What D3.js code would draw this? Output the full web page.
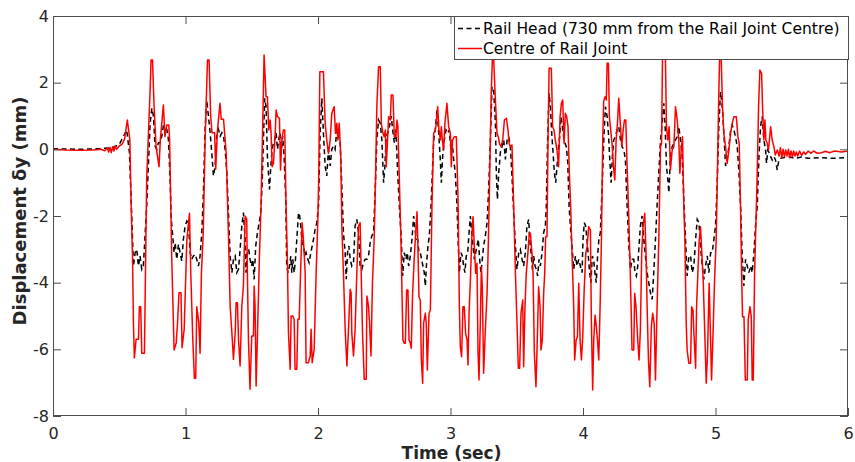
<!DOCTYPE html>
<html><head><meta charset="utf-8">
<script src="https://cdn.jsdelivr.net/npm/d3@7"></script>
<style>body{margin:0;background:#fff}svg{display:block;font-family:"DejaVu Sans",Verdana,sans-serif}</style>
</head><body><svg id="c" width="855" height="462"></svg>
<script>
// ---- data: [time (s), displacement (mm)] ----
const xTicks = [0,1,2,3,4,5,6];
const yTicks = [-8,-6,-4,-2,0,2,4];
const seriesNames = ["Rail Head (730 mm from the Rail Joint Centre)", "Centre of Rail Joint"];
const railHead = [[0,0.02],[0.2,0.0],[0.35,0.02],[0.45,0.05],[0.5,0.15],[0.531,0.38],[0.556,0.58],[0.577,-0.1],[0.587,-1.2],[0.597,-2.3],[0.607,-3.5],[0.62,-3.1],[0.632,-3.0],[0.645,-3.5],[0.657,-3.2],[0.67,-3.6],[0.682,-3.5],[0.707,-1.72],[0.733,0.78],[0.746,1.23],[0.758,1.0],[0.77,0.1],[0.783,0.0],[0.796,0.2],[0.808,0.2],[0.821,0.4],[0.833,0.7],[0.846,0.7],[0.859,0.6],[0.871,0.3],[0.884,-0.9],[0.891,-2.0],[0.914,-3.1],[0.922,-2.8],[0.934,-3.3],[0.947,-2.85],[0.959,-3.1],[0.972,-3.35],[0.984,-2.7],[0.997,-2.3],[1.01,-2.15],[1.022,-2.2],[1.035,-3.1],[1.047,-3.3],[1.06,-3.2],[1.073,-3.15],[1.085,-3.3],[1.098,-3.5],[1.11,-3.2],[1.123,-2.5],[1.135,-1.3],[1.148,0.6],[1.16,1.48],[1.173,1.0],[1.186,0.5],[1.198,-0.1],[1.211,-0.8],[1.224,-0.5],[1.236,0.4],[1.249,0.6],[1.262,0.4],[1.274,0.5],[1.287,0.4],[1.299,0.0],[1.312,-0.7],[1.324,-1.9],[1.337,-3.2],[1.35,-3.7],[1.362,-3.3],[1.375,-3.2],[1.387,-3.7],[1.4,-3.6],[1.412,-3.0],[1.425,-2.3],[1.437,-1.9],[1.45,-2.7],[1.457,-3.7],[1.467,-3.1],[1.477,-3.0],[1.487,-3.3],[1.498,-3.5],[1.508,-3.3],[1.518,-3.9],[1.53,-2.9],[1.543,-2.5],[1.556,-2.2],[1.568,-1.9],[1.578,-1.1],[1.588,0.28],[1.598,1.53],[1.608,1.28],[1.618,-0.2],[1.626,-0.7],[1.634,-1.2],[1.644,-0.5],[1.654,0.0],[1.664,0.2],[1.674,0.3],[1.684,0.5],[1.694,0.0],[1.704,0.3],[1.714,0.5],[1.724,0.0],[1.734,0.4],[1.744,-0.2],[1.757,-1.5],[1.764,-3.5],[1.774,-3.7],[1.785,-3.5],[1.795,-3.2],[1.802,-3.7],[1.81,-3.3],[1.82,-3.7],[1.83,-3.3],[1.84,-2.7],[1.853,-1.9],[1.86,-1.95],[1.87,-2.3],[1.88,-2.8],[1.89,-2.9],[1.903,-3.2],[1.91,-3.1],[1.923,-3.3],[1.933,-3.4],[1.946,-3.1],[1.956,-2.9],[1.966,-2.7],[1.978,-2.4],[1.991,-2.2],[2.004,-1.7],[2.016,0.48],[2.029,1.53],[2.041,0.48],[2.054,-0.5],[2.066,-0.8],[2.079,0.0],[2.092,-0.5],[2.104,0.0],[2.117,0.1],[2.129,0.0],[2.142,0.6],[2.154,0.4],[2.167,0.2],[2.18,-1.1],[2.192,-2.5],[2.205,-3.1],[2.213,-3.9],[2.223,-3.1],[2.233,-2.9],[2.243,-3.3],[2.255,-3.5],[2.268,-3.4],[2.28,-2.3],[2.293,-2.1],[2.306,-2.5],[2.318,-3.5],[2.331,-3.6],[2.343,-3.4],[2.356,-3.3],[2.369,-3.3],[2.381,-3.2],[2.394,-2.8],[2.406,-2.6],[2.419,-2.5],[2.432,-1.2],[2.444,0.28],[2.457,0.88],[2.47,0.78],[2.482,0.28],[2.495,-1.0],[2.505,-0.5],[2.515,0.4],[2.528,0.5],[2.54,0.7],[2.553,1.0],[2.563,0.6],[2.576,0.2],[2.588,0.6],[2.601,-0.7],[2.614,-1.7],[2.629,-2.7],[2.639,-3.8],[2.651,-3.1],[2.664,-3.3],[2.674,-3.1],[2.684,-3.5],[2.697,-3.2],[2.709,-2.7],[2.722,-2.0],[2.732,-2.4],[2.742,-2.7],[2.752,-2.7],[2.762,-3.1],[2.772,-3.1],[2.782,-3.3],[2.792,-3.5],[2.802,-3.7],[2.81,-4.1],[2.818,-3.5],[2.83,-2.9],[2.84,-2.6],[2.853,-1.7],[2.863,-0.7],[2.873,0.28],[2.885,0.58],[2.898,1.18],[2.911,0.48],[2.923,-0.3],[2.931,-1.0],[2.941,-0.2],[2.953,0.28],[2.966,0.58],[2.979,0.48],[2.991,0.58],[3.001,0.08],[3.011,0.28],[3.024,-0.3],[3.036,-0.7],[3.049,-1.7],[3.059,-2.9],[3.067,-3.7],[3.079,-3.1],[3.089,-3.2],[3.099,-3.5],[3.109,-3.7],[3.119,-3.2],[3.13,-3.1],[3.14,-2.5],[3.15,-2.0],[3.16,-2.5],[3.17,-2.9],[3.18,-3.3],[3.19,-3.1],[3.2,-2.9],[3.21,-2.7],[3.22,-3.3],[3.23,-3.7],[3.24,-3.3],[3.25,-2.9],[3.263,-2.6],[3.276,-2.2],[3.288,-1.2],[3.301,0.28],[3.313,1.88],[3.326,1.78],[3.339,0.78],[3.346,-0.7],[3.354,-1.5],[3.364,-0.7],[3.376,-0.1],[3.389,0.08],[3.402,0.28],[3.414,-0.3],[3.427,0.28],[3.439,0.38],[3.452,0.08],[3.465,-0.9],[3.477,-1.9],[3.49,-2.9],[3.502,-3.6],[3.515,-3.1],[3.527,-3.0],[3.54,-3.3],[3.552,-3.5],[3.565,-3.1],[3.577,-2.3],[3.59,-2.1],[3.598,-2.7],[3.608,-3.1],[3.618,-3.6],[3.628,-3.2],[3.638,-3.5],[3.648,-3.6],[3.658,-3.8],[3.668,-3.3],[3.678,-3.5],[3.691,-3.1],[3.703,-2.5],[3.716,-2.3],[3.723,-1.7],[3.733,0.28],[3.744,1.68],[3.754,1.28],[3.764,0.48],[3.774,-0.1],[3.784,-0.7],[3.794,-1.0],[3.804,-0.5],[3.814,0.0],[3.824,0.38],[3.834,0.98],[3.844,0.68],[3.854,0.38],[3.864,0.18],[3.874,0.08],[3.885,-0.4],[3.895,-1.7],[3.905,-2.3],[3.917,-2.9],[3.93,-3.6],[3.943,-3.2],[3.955,-3.5],[3.968,-3.3],[3.98,-3.5],[3.993,-3.7],[4.0,-2.7],[4.01,-2.2],[4.02,-2.3],[4.03,-2.7],[4.04,-3.2],[4.05,-3.7],[4.06,-4.0],[4.07,-3.2],[4.08,-3.3],[4.09,-3.7],[4.1,-4.0],[4.11,-3.2],[4.12,-2.7],[4.131,-2.5],[4.144,-1.2],[4.157,0.28],[4.169,1.28],[4.182,0.98],[4.192,0.48],[4.202,-0.3],[4.212,-1.0],[4.222,-0.2],[4.232,0.28],[4.245,0.38],[4.257,0.58],[4.27,0.68],[4.283,0.28],[4.295,0.08],[4.308,-0.02],[4.32,-0.3],[4.333,-1.7],[4.346,-2.9],[4.358,-3.6],[4.371,-3.3],[4.383,-3.3],[4.393,-3.7],[4.403,-3.8],[4.413,-3.5],[4.423,-2.9],[4.433,-2.3],[4.446,-2.0],[4.459,-2.7],[4.471,-3.2],[4.484,-3.7],[4.496,-4.0],[4.509,-4.3],[4.522,-4.5],[4.534,-3.7],[4.547,-2.7],[4.559,-1.7],[4.572,-0.7],[4.585,0.28],[4.598,0.78],[4.61,1.38],[4.62,0.68],[4.63,-0.5],[4.64,-0.9],[4.648,-1.3],[4.66,-0.2],[4.673,0.08],[4.686,0.18],[4.698,0.28],[4.711,0.38],[4.723,0.68],[4.736,0.28],[4.749,-0.2],[4.761,-1.5],[4.774,-2.7],[4.786,-3.8],[4.799,-3.2],[4.812,-3.2],[4.824,-3.7],[4.837,-3.5],[4.85,-2.7],[4.862,-2.1],[4.875,-2.2],[4.887,-2.9],[4.9,-3.5],[4.912,-3.9],[4.925,-3.5],[4.938,-3.2],[4.95,-3.7],[4.963,-3.1],[4.975,-3.1],[4.988,-2.7],[5.0,-2.3],[5.013,-1.0],[5.026,0.78],[5.038,1.73],[5.051,1.28],[5.063,0.48],[5.076,-0.5],[5.088,-0.3],[5.101,0.08],[5.114,0.58],[5.126,0.73],[5.139,0.58],[5.151,0.38],[5.164,0.08],[5.177,-0.7],[5.189,-1.7],[5.202,-3.2],[5.214,-4.1],[5.227,-3.3],[5.24,-3.5],[5.252,-3.7],[5.265,-3.5],[5.277,-3.7],[5.29,-3.1],[5.302,-2.3],[5.315,-1.7],[5.328,-0.2],[5.34,0.68],[5.352,0.98],[5.365,0.28],[5.378,-0.02],[5.385,-0.42],[5.395,-0.02],[5.406,-0.12],[5.416,-0.22],[5.428,-0.32],[5.441,-0.22],[5.453,-0.32],[5.466,-0.62],[5.478,-0.32],[5.49,-0.27],[5.55,-0.22],[5.6,-0.27],[5.65,-0.23],[5.7,-0.27],[5.8,-0.25],[5.9,-0.27],[6.0,-0.25]];
const railJoint = [[0,0.0],[0.1,-0.02],[0.2,-0.03],[0.3,-0.02],[0.36,0.0],[0.39,-0.04],[0.41,0.04],[0.42,-0.08],[0.43,0.06],[0.44,-0.1],[0.45,0.08],[0.46,-0.05],[0.47,0.1],[0.48,0.0],[0.5,0.1],[0.52,0.15],[0.54,0.3],[0.561,0.88],[0.58,0.28],[0.59,-1.7],[0.6,-3.2],[0.607,-5.2],[0.614,-6.26],[0.627,-5.7],[0.645,-5.7],[0.652,-4.72],[0.662,-4.72],[0.67,-6.12],[0.69,-6.12],[0.707,-0.9],[0.733,1.78],[0.74,2.68],[0.751,2.68],[0.763,1.28],[0.778,0.08],[0.8,-0.52],[0.81,0.28],[0.833,1.33],[0.845,0.38],[0.859,0.73],[0.874,0.73],[0.88,0.28],[0.896,-3.22],[0.914,-6.02],[0.93,-5.8],[0.94,-5.2],[0.951,-4.3],[0.966,-4.3],[0.974,-5.95],[0.99,-5.4],[1.01,-2.72],[1.03,-1.92],[1.04,-3.72],[1.055,-5.7],[1.067,-6.87],[1.077,-6.87],[1.085,-4.72],[1.1,-5.2],[1.11,-6.12],[1.12,-3.72],[1.134,-2.5],[1.148,0.28],[1.166,2.68],[1.178,2.68],[1.19,1.0],[1.2,0.5],[1.22,0.5],[1.228,-0.6],[1.24,0.5],[1.26,1.38],[1.27,0.9],[1.287,0.9],[1.307,-0.1],[1.325,-2.7],[1.337,-4.7],[1.35,-5.5],[1.362,-6.3],[1.375,-5.5],[1.382,-4.6],[1.392,-4.6],[1.4,-5.7],[1.412,-6.5],[1.425,-4.7],[1.437,-4.1],[1.45,-2.0],[1.462,-2.1],[1.467,-3.7],[1.475,-5.7],[1.487,-7.2],[1.5,-5.6],[1.513,-5.6],[1.518,-4.1],[1.525,-4.7],[1.533,-7.1],[1.543,-5.6],[1.558,-3.2],[1.57,-1.7],[1.583,0.78],[1.593,2.83],[1.608,1.58],[1.618,1.58],[1.629,0.58],[1.639,0.88],[1.646,0.48],[1.654,-0.52],[1.664,-0.42],[1.676,0.38],[1.684,1.18],[1.694,0.98],[1.709,0.93],[1.717,-0.62],[1.727,0.28],[1.739,0.58],[1.749,0.58],[1.759,-1.72],[1.77,-3.5],[1.777,-5.5],[1.79,-6.6],[1.797,-5.0],[1.81,-5.0],[1.82,-5.1],[1.827,-6.6],[1.84,-6.6],[1.848,-5.1],[1.858,-5.1],[1.87,-3.5],[1.88,-2.2],[1.89,-2.7],[1.903,-3.7],[1.91,-6.4],[1.928,-6.4],[1.941,-6.2],[1.948,-5.4],[1.956,-6.4],[1.971,-6.0],[1.986,-3.7],[1.999,-2.1],[2.006,-0.7],[2.014,2.33],[2.041,2.33],[2.054,0.78],[2.066,0.28],[2.079,-0.12],[2.092,0.28],[2.104,1.08],[2.122,1.28],[2.132,0.48],[2.142,0.78],[2.15,0.28],[2.16,0.78],[2.172,-0.22],[2.18,-2.3],[2.192,-3.7],[2.205,-5.4],[2.218,-6.5],[2.23,-5.4],[2.243,-4.2],[2.25,-4.3],[2.255,-5.5],[2.268,-6.2],[2.28,-5.4],[2.293,-3.7],[2.306,-2.3],[2.318,-2.2],[2.326,-3.7],[2.336,-5.5],[2.349,-6.9],[2.364,-6.9],[2.369,-4.4],[2.381,-4.7],[2.389,-5.2],[2.4,-6.2],[2.411,-4.0],[2.424,-2.7],[2.434,-0.9],[2.444,1.28],[2.457,2.48],[2.47,2.48],[2.478,0.78],[2.49,0.48],[2.5,0.38],[2.508,0.58],[2.515,-0.52],[2.525,0.28],[2.533,0.98],[2.546,0.88],[2.553,1.63],[2.566,1.63],[2.576,0.38],[2.588,0.38],[2.596,0.88],[2.603,0.68],[2.614,-0.92],[2.626,-2.72],[2.636,-4.72],[2.641,-5.72],[2.651,-5.82],[2.659,-5.82],[2.669,-4.22],[2.679,-4.22],[2.687,-5.72],[2.697,-5.82],[2.704,-5.97],[2.714,-4.32],[2.727,-3.22],[2.737,-2.52],[2.747,-1.87],[2.754,-2.92],[2.762,-4.42],[2.772,-4.52],[2.78,-6.32],[2.79,-7.02],[2.797,-5.22],[2.81,-4.92],[2.817,-5.22],[2.825,-6.62],[2.838,-4.92],[2.848,-4.82],[2.86,-1.72],[2.873,0.48],[2.885,0.58],[2.893,0.78],[2.903,1.28],[2.913,0.58],[2.923,0.28],[2.931,0.68],[2.938,0.28],[2.948,-0.02],[2.958,0.78],[2.973,1.38],[2.986,0.68],[2.999,0.48],[3.006,-0.52],[3.016,0.28],[3.029,0.38],[3.044,0.38],[3.057,-1.52],[3.067,-4.72],[3.074,-5.92],[3.084,-6.22],[3.094,-4.72],[3.104,-4.72],[3.114,-5.52],[3.125,-5.72],[3.132,-6.47],[3.14,-4.92],[3.15,-3.92],[3.162,-2.52],[3.17,-2.02],[3.18,-2.92],[3.19,-3.72],[3.2,-3.42],[3.208,-6.12],[3.215,-6.92],[3.225,-5.22],[3.233,-3.52],[3.24,-4.12],[3.25,-6.72],[3.263,-5.42],[3.276,-4.32],[3.286,-2.72],[3.296,-0.72],[3.308,1.78],[3.316,2.68],[3.326,2.68],[3.339,1.48],[3.351,0.48],[3.361,0.38],[3.369,0.18],[3.381,0.08],[3.394,0.28],[3.407,0.88],[3.422,0.93],[3.434,0.58],[3.442,0.18],[3.452,0.08],[3.464,0.13],[3.477,-1.72],[3.49,-3.72],[3.502,-5.22],[3.512,-6.57],[3.522,-6.57],[3.532,-4.92],[3.545,-4.52],[3.552,-6.52],[3.562,-4.72],[3.572,-3.72],[3.582,-3.22],[3.595,-2.52],[3.603,-2.52],[3.615,-3.12],[3.623,-3.72],[3.633,-6.12],[3.645,-7.12],[3.655,-5.72],[3.665,-4.12],[3.676,-4.72],[3.683,-6.02],[3.693,-5.72],[3.703,-4.32],[3.711,-3.72],[3.718,-2.62],[3.728,-2.62],[3.736,0.28],[3.744,2.43],[3.761,2.43],[3.771,0.68],[3.781,0.58],[3.791,0.28],[3.804,-0.02],[3.816,-0.52],[3.827,0.98],[3.837,1.38],[3.847,1.48],[3.857,0.18],[3.867,1.08],[3.877,0.98],[3.887,0.68],[3.897,-0.72],[3.907,-1.72],[3.917,-3.12],[3.93,-4.72],[3.937,-6.32],[3.948,-5.72],[3.958,-5.62],[3.968,-4.02],[3.978,-5.72],[3.988,-6.32],[3.998,-5.62],[4.008,-4.32],[4.021,-3.12],[4.031,-2.92],[4.043,-2.32],[4.056,-2.42],[4.063,-5.12],[4.073,-7.22],[4.081,-5.72],[4.091,-4.97],[4.101,-5.32],[4.109,-5.72],[4.119,-6.32],[4.129,-4.72],[4.139,-2.72],[4.149,0.28],[4.156,1.43],[4.166,1.58],[4.176,1.48],[4.182,2.58],[4.192,2.58],[4.199,0.98],[4.209,0.58],[4.219,0.18],[4.23,-0.52],[4.24,-0.92],[4.25,0.28],[4.26,0.78],[4.27,1.53],[4.283,0.68],[4.293,0.08],[4.303,0.58],[4.313,0.88],[4.323,0.88],[4.333,-0.52],[4.343,-1.72],[4.353,-3.12],[4.363,-4.72],[4.37,-6.02],[4.383,-6.02],[4.39,-4.32],[4.4,-4.72],[4.413,-5.72],[4.423,-6.32],[4.433,-5.42],[4.443,-3.12],[4.453,-2.32],[4.466,-1.92],[4.476,-3.12],[4.484,-4.72],[4.494,-6.32],[4.504,-7.12],[4.516,-5.32],[4.526,-4.92],[4.537,-5.22],[4.547,-6.92],[4.559,-4.72],[4.572,-2.72],[4.585,0.08],[4.593,0.18],[4.6,2.75],[4.622,2.75],[4.63,0.68],[4.64,0.28],[4.65,0.68],[4.66,-0.62],[4.673,-0.02],[4.686,0.08],[4.698,1.28],[4.711,0.88],[4.723,0.28],[4.731,-0.72],[4.741,-0.02],[4.751,0.38],[4.761,-1.72],[4.769,-2.72],[4.779,-5.22],[4.786,-6.02],[4.799,-6.42],[4.812,-6.42],[4.82,-4.72],[4.83,-4.82],[4.837,-5.52],[4.85,-6.57],[4.857,-4.72],[4.867,-3.72],[4.877,-2.72],[4.887,-2.32],[4.897,-3.12],[4.907,-3.92],[4.917,-5.22],[4.93,-7.02],[4.94,-6.12],[4.952,-4.02],[4.963,-5.72],[4.97,-6.92],[4.98,-5.72],[4.993,-3.92],[5.005,-2.72],[5.013,-1.02],[5.023,1.28],[5.031,2.75],[5.043,2.75],[5.053,1.28],[5.063,0.48],[5.076,0.08],[5.088,-0.42],[5.101,-0.02],[5.114,0.48],[5.126,0.78],[5.139,0.98],[5.157,0.98],[5.169,0.38],[5.179,0.18],[5.189,-1.72],[5.197,-3.72],[5.204,-5.02],[5.215,-5.02],[5.225,-6.92],[5.24,-6.92],[5.247,-5.12],[5.26,-4.72],[5.27,-5.02],[5.277,-6.92],[5.285,-6.92],[5.295,-3.72],[5.305,-2.22],[5.315,-0.72],[5.325,1.28],[5.335,2.38],[5.348,2.28],[5.355,1.28],[5.365,0.28],[5.373,0.88],[5.38,0.28],[5.39,0.18],[5.4,-0.02],[5.416,0.68],[5.428,0.28],[5.441,0.08],[5.451,-0.17],[5.466,-0.02],[5.48,-0.2],[5.49,0.05],[5.5,-0.25],[5.51,0.0],[5.52,-0.22],[5.53,-0.02],[5.54,-0.2],[5.55,0.0],[5.56,-0.25],[5.57,-0.05],[5.58,-0.22],[5.59,-0.05],[5.6,-0.2],[5.61,-0.08],[5.62,-0.2],[5.635,-0.05],[5.65,-0.18],[5.665,-0.08],[5.68,-0.15],[5.7,-0.05],[5.72,-0.12],[5.74,-0.05],[5.77,-0.12],[5.8,-0.1],[5.83,-0.06],[5.86,-0.1],[5.9,-0.05],[5.95,-0.08],[6.0,-0.05]];

// ---- drawing ----
const svg = d3.select("#c");
const L = 53, R = 848, T = 16, B = 416;
const x = d3.scaleLinear().domain([0,6]).range([L,R]);
const y = d3.scaleLinear().domain([-8,4]).range([B,T]);
const axisCol = "#4d4d4d", textCol = "#262626";

svg.append("defs").append("clipPath").attr("id","clip")
  .append("rect").attr("x",L).attr("y",T).attr("width",R-L).attr("height",B-T);

const line = d3.line().x(d=>x(d[0])).y(d=>y(d[1]));
const g = svg.append("g").attr("clip-path","url(#clip)");
g.append("path").datum(railHead).attr("d",line).attr("fill","none")
  .attr("stroke","#000").attr("stroke-width",1.5).attr("stroke-dasharray","5,3.5");
g.append("path").datum(railJoint).attr("d",line).attr("fill","none")
  .attr("stroke","#ff0000").attr("stroke-width",1.5).attr("stroke-linejoin","round");

const fmt = d => String(d);
function styleAxis(sel, labels){
  sel.select(".domain").remove();
  sel.selectAll(".tick line").attr("stroke",axisCol);
  if(labels) sel.selectAll(".tick text").attr("fill",textCol).style("font-size","16px").style("font-family",'"DejaVu Sans",Verdana,sans-serif');
  else sel.selectAll(".tick text").remove();
}
svg.append("g").attr("transform",`translate(0,${B})`)
  .call(d3.axisBottom(x).tickValues(xTicks).tickSizeInner(-8).tickSizeOuter(0).tickPadding(12).tickFormat(fmt))
  .call(s=>styleAxis(s,true));
svg.append("g").attr("transform",`translate(0,${T})`)
  .call(d3.axisTop(x).tickValues(xTicks).tickSizeInner(-8).tickSizeOuter(0))
  .call(s=>styleAxis(s,false));
svg.append("g").attr("transform",`translate(${L},0)`)
  .call(d3.axisLeft(y).tickValues(yTicks).tickSizeInner(-8).tickSizeOuter(0).tickPadding(4).tickFormat(fmt))
  .call(s=>styleAxis(s,true));
svg.append("g").attr("transform",`translate(${R},0)`)
  .call(d3.axisRight(y).tickValues(yTicks).tickSizeInner(-8).tickSizeOuter(0))
  .call(s=>styleAxis(s,false));

svg.append("rect").attr("x",L+0.5).attr("y",T+0.5).attr("width",R-L-1).attr("height",B-T-1)
  .attr("fill","none").attr("stroke",axisCol).attr("stroke-width",1);

// axis titles
svg.append("text").attr("x",451.5).attr("y",459).attr("text-anchor","middle")
  .attr("fill",textCol).style("font-weight","bold").style("font-size","17px").text("Time (sec)");
svg.append("text").attr("transform","translate(26,211) rotate(-90)").attr("text-anchor","middle")
  .attr("fill",textCol).style("font-weight","bold").style("font-size","18px").text("Displacement δy (mm)");

// legend
const lg = svg.append("g");
lg.append("rect").attr("x",454.5).attr("y",16.5).attr("width",394).attr("height",43)
  .attr("fill","#fff").attr("stroke",axisCol).attr("stroke-width",1);
const rows = [{name:seriesNames[0],col:"#000",dash:"5,3.5",w:1.5},{name:seriesNames[1],col:"#ff0000",dash:null,w:1.5}];
rows.forEach((r,i)=>{
  const yy = 28.5 + i*20;
  lg.append("line").attr("x1",458).attr("x2",482).attr("y1",yy).attr("y2",yy)
    .attr("stroke",r.col).attr("stroke-width",r.w).attr("stroke-dasharray",r.dash);
  lg.append("text").attr("x",483).attr("y",yy+5.5).attr("fill","#000")
    .style("font-size","15.5px").text(r.name);
});
</script></body></html>
